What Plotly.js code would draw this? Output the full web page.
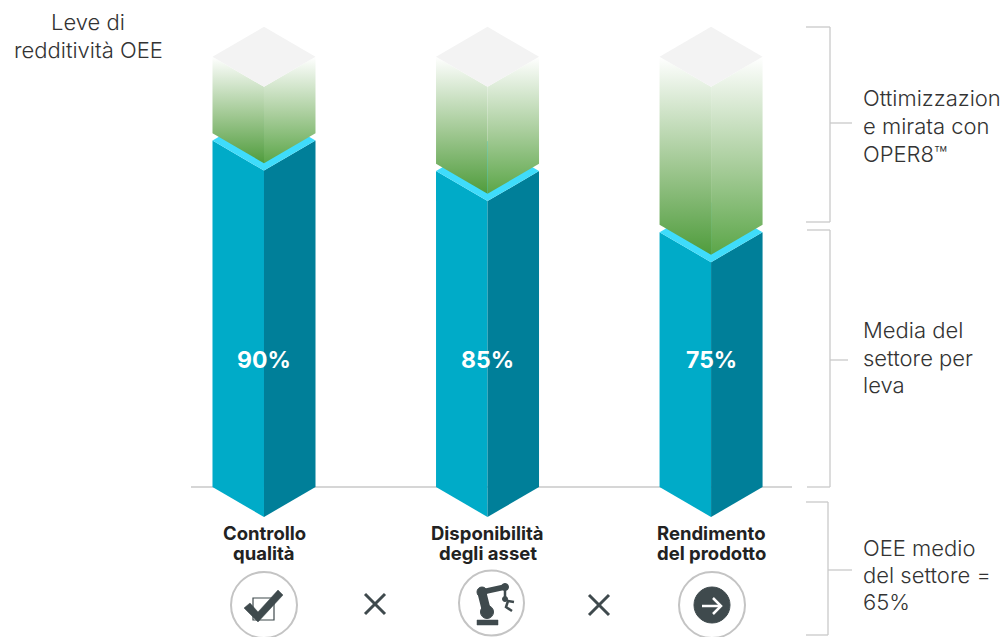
<!DOCTYPE html>
<html>
<head>
<meta charset="utf-8">
<script src="https://cdn.plot.ly/plotly-3.0.1.min.js"></script>
<style>html,body{margin:0;padding:0;background:#fff}#chart{width:1003px;height:637px}</style>
</head>
<body>
<div id="chart"></div>
<script>
// OEE levers: sector average per lever
const categories = [["Controllo", "qualità"], ["Disponibilità", "degli asset"], ["Rendimento", "del prodotto"]];
const values = [90, 85, 75];
const leftTitle = ["Leve di", "redditività OEE"];
const sideNotes = [
  ["Ottimizzazion", "e mirata con", "OPER8™"],
  ["Media del", "settore per", "leva"],
  ["OEE medio", "del settore =", "65%"]
];

const W = 1003, H = 637;
const axisBase = 33.3, axisCeil = 103.7;      // value at the floor line, value at the block tops
const xRange = [-1.181, 3.306], yRange = [8.75, 113];
const halfWidth = 0.2304;                     // half a column, in category units
const isoDrop = 4.91;                         // isometric drop of a face, in value units
const greenGap = 1.2;                         // how far the green block floats over the cyan cap

const teal = "#00abc8", tealDark = "#007f99", cyan = "#3fdcfb", capTop = "#f3f3f3";
const ink = "#3f4a4d", rule = "#c9c9c9", textCol = "#333333";
const font = "Inter, 'Open Sans', sans-serif";

function face(xs, ys, style) {
  return Object.assign({x: xs, y: ys, type: "scatter", mode: "lines", fill: "toself",
    line: {width: 0}, hoverinfo: "skip", showlegend: false}, style);
}
const greenScale = (dark, mid) => ({type: "vertical", colorscale: [[0, dark], [0.45, mid], [1, "#ffffff"]]});

const traces = [];
values.forEach((v, i) => {
  const L = i - halfWidth, R = i + halfWidth;
  // sector-average column
  traces.push(face([L, i, i, L, L], [v, v - isoDrop, axisBase - isoDrop, axisBase, v], {fillcolor: teal}));
  traces.push(face([i, R, R, i, i], [v - isoDrop, v, axisBase, axisBase - isoDrop, v - isoDrop], {fillcolor: tealDark}));
  traces.push(face([L, i, R, i, L], [v, v - isoDrop, v, v + isoDrop, v], {fillcolor: cyan}));
  // optimisation block up to the top
  const g = v + greenGap;
  traces.push(face([L, i, i, L, L], [g, g - isoDrop, axisCeil - isoDrop, axisCeil, g], {fillgradient: greenScale("#4f9c3c", "#a0c892")}));
  traces.push(face([i, R, R, i, i], [g - isoDrop, g, axisCeil, axisCeil - isoDrop, g - isoDrop], {fillgradient: greenScale("#5ba648", "#a8cd9b")}));
  traces.push(face([L, i, R, i, L], [axisCeil, axisCeil - isoDrop, axisCeil, axisCeil + isoDrop, axisCeil], {fillcolor: capTop}));
});

// pixel helpers for the furniture around the plot
const px = x => x / W, py = y => 1 - y / H;
const pt = (x, y) => px(x) + "," + py(y);
const line = (x0, y0, x1, y1, color, width) => ({type: "line", xref: "paper", yref: "paper",
  x0: px(x0), y0: py(y0), x1: px(x1), y1: py(y1), line: {color: color, width: width}, layer: "below"});
const above = s => Object.assign(s, {layer: "above"});
const circle = (cx, cy, r, stroke, width, fill) => ({type: "circle", xref: "paper", yref: "paper", layer: "above",
  x0: px(cx - r), x1: px(cx + r), y0: py(cy + r), y1: py(cy - r),
  line: {color: stroke, width: width}, fillcolor: fill || "rgba(0,0,0,0)"});
const poly = (points, fill, stroke, width, closed) => ({type: "path", xref: "paper", yref: "paper", layer: "above",
  path: "M" + points.map(p => pt(p[0], p[1])).join(" L") + (closed === false ? "" : " Z"),
  fillcolor: fill, line: {color: stroke, width: width}});
const cross = (cx, cy, r) => [
  above(line(cx - r, cy - r, cx + r, cy + r, ink, 3)),
  above(line(cx - r, cy + r, cx + r, cy - r, ink, 3))
];
const bracket = (xl, xr, top, bottom, tickY, tickEnd) => [
  line(xl, top, xr, top, rule, 1.3), line(xr, top, xr, bottom, rule, 1.3),
  line(xl, bottom, xr, bottom, rule, 1.3), line(xr, tickY, tickEnd, tickY, rule, 1.3)
];

const none = "rgba(0,0,0,0)";
const shapes = [
  line(191, 487, 792, 487, rule, 1.3),
  ...bracket(806, 830, 27, 222, 123, 852),
  ...bracket(807, 830, 230, 487, 360, 848),
  ...bracket(806, 828, 502, 635, 570, 852),
  // quality icon
  circle(264, 605, 33, "#c4c4c4", 2),
  poly([[253, 598], [274, 598], [274, 620], [253, 620]], none, ink, 1.2),
  poly([[244, 608], [250, 603], [258, 612], [278, 590], [283, 595], [258, 622]], ink, ink, 0.5),
  cross(375, 604, 10)[0], cross(375, 604, 10)[1],
  // asset icon: robot arm
  circle(491.5, 603, 32.5, "#c4c4c4", 2),
  poly([[477, 620], [498, 620], [498, 625], [477, 625]], ink, ink, 0.5),
  above(line(482, 593, 487, 613, ink, 9)),
  above(line(482, 592, 505, 587, ink, 5.5)),
  circle(482, 592, 5, ink, 1, ink),
  circle(487, 612, 6.5, ink, 1, ink),
  circle(505, 587, 3.5, ink, 1, ink),
  above(line(505, 589, 505, 599, ink, 2.5)),
  circle(505, 599, 2.5, ink, 1, ink),
  poly([[514, 602], [508, 601], [506, 607], [512, 611]], none, ink, 2.5, false),
  cross(599, 605, 10)[0], cross(599, 605, 10)[1],
  // yield icon: arrow in a disc
  circle(712, 605, 33, "#c4c4c4", 2),
  circle(712, 605, 18, ink, 1, ink),
  above(line(702, 606, 721, 606, "#ffffff", 2.5)),
  poly([[713, 598], [721, 606], [713, 614]], none, "#ffffff", 2.5, false)
];

const note = (text, x, y, size, anchor, color, weight) => ({xref: "paper", yref: "paper", x: px(x), y: py(y),
  text: text, showarrow: false, xanchor: anchor, yanchor: "middle",
  font: {family: font, size: size, color: color, weight: weight || 300}});

const annotations = [];
leftTitle.forEach((t, i) => annotations.push(note(t, 88, 22 + 28 * i, 22, "center", textCol)));
[[98, 28], [330, 27.5], [548, 27]].forEach((pos, n) => sideNotes[n].forEach((t, i) =>
  annotations.push(note(t, 861, pos[0] + pos[1] * i, 22, "left", textCol))));
categories.forEach((lines, i) => lines.forEach((t, k) =>
  annotations.push(note(t, 264 + 223.5 * i, 533 + 20 * k, 18.5, "center", "#222222", 700))));
values.forEach((v, i) => annotations.push({x: i, xref: "x", y: py(360), yref: "paper", text: v + "%",
  showarrow: false, xanchor: "center", yanchor: "middle", font: {family: font, size: 23, color: "#ffffff", weight: 700}}));

Plotly.newPlot("chart", traces, {
  width: W, height: H, margin: {l: 0, r: 0, t: 0, b: 0}, showlegend: false,
  paper_bgcolor: "#ffffff", plot_bgcolor: "#ffffff", hovermode: false,
  xaxis: {range: xRange, visible: false, fixedrange: true},
  yaxis: {range: yRange, visible: false, fixedrange: true},
  shapes: shapes, annotations: annotations
}, {displayModeBar: false, staticPlot: true});
</script>
</body>
</html>
